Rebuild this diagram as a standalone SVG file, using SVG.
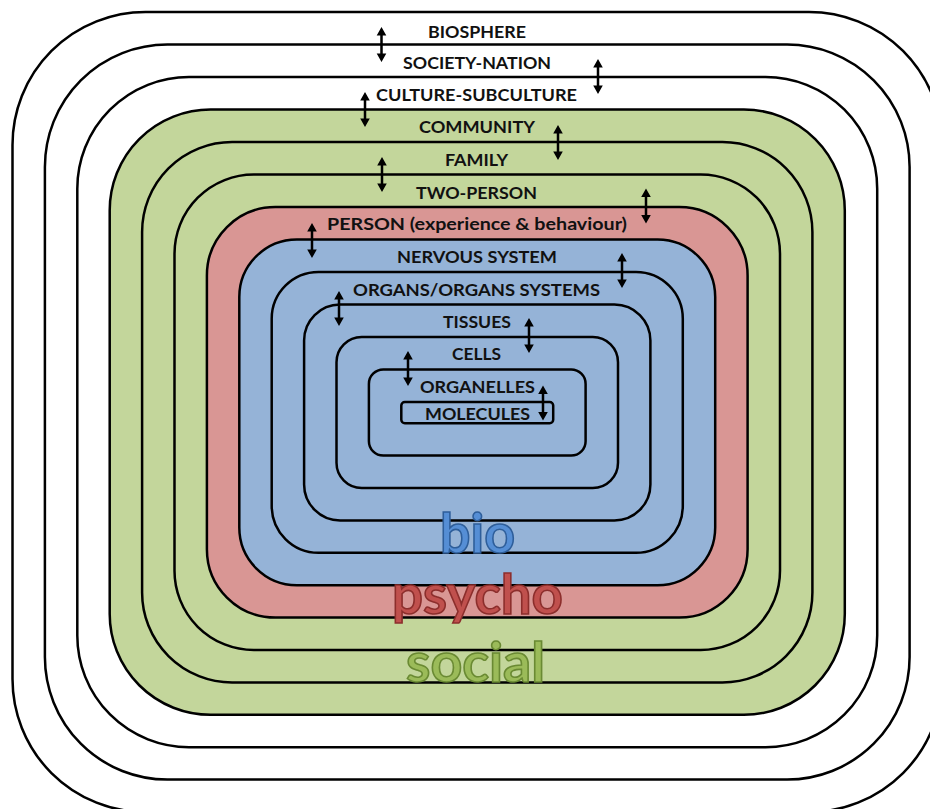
<svg xmlns="http://www.w3.org/2000/svg" xmlns:xlink="http://www.w3.org/1999/xlink" width="930" height="809" viewBox="0 0 930 809">
<style>
.ring{stroke:#000;stroke-width:2.5}
.w{fill:#fff}
.g{fill:#C3D69B}
.r{fill:#D99694}
.b{fill:#95B3D7}
.lbl{font-family:Lato,"Open Sans","Liberation Sans",sans-serif;font-weight:bold;font-size:17.5px;fill:#111;text-anchor:middle}
.big{font-family:Lato,"Open Sans","Liberation Sans",sans-serif;font-weight:bold;font-size:55px;text-anchor:middle;stroke-width:1.6}
</style>
<defs>
<path id="dbl" d="M0,-17.5 L4.8,-9 L1.25,-9 L1.25,9 L4.8,9 L0,17.5 L-4.8,9 L-1.25,9 L-1.25,-9 L-4.8,-9 Z" fill="#000"/>
</defs>
<rect width="930" height="809" fill="#fff"/>
<g id="biosphere"><rect class="ring w" x="12.5" y="12" width="929.5" height="800" rx="133"/><text class="lbl" x="477" y="38" textLength="98" lengthAdjust="spacingAndGlyphs">BIOSPHERE</text></g>
<g id="society-nation"><rect class="ring w" x="44.9" y="44.5" width="864.7" height="735.1" rx="122.5"/><text class="lbl" x="477" y="69" textLength="148" lengthAdjust="spacingAndGlyphs">SOCIETY-NATION</text></g>
<g id="culture-subculture"><rect class="ring w" x="77.3" y="77" width="799.9" height="670.2" rx="111.7"/><text class="lbl" x="476.5" y="101" textLength="201" lengthAdjust="spacingAndGlyphs">CULTURE-SUBCULTURE</text></g>
<g id="community"><rect class="ring g" x="109.7" y="109.5" width="735.1" height="605.3" rx="100.9"/><text class="lbl" x="477" y="133" textLength="116" lengthAdjust="spacingAndGlyphs">COMMUNITY</text></g>
<g id="family"><rect class="ring g" x="142.1" y="142" width="670.3" height="540.4" rx="90"/><text class="lbl" x="476.5" y="166" textLength="63" lengthAdjust="spacingAndGlyphs">FAMILY</text></g>
<g id="two-person"><rect class="ring g" x="174.5" y="174.5" width="605.5" height="475.5" rx="79.3"/><text class="lbl" x="476.5" y="199" textLength="121" lengthAdjust="spacingAndGlyphs">TWO-PERSON</text></g>
<g id="person"><rect class="ring r" x="206.9" y="207" width="540.7" height="410.6" rx="68.4"/><text class="lbl" x="477" y="230" textLength="300" lengthAdjust="spacingAndGlyphs">PERSON (experience &amp; behaviour)</text></g>
<g id="nervous-system"><rect class="ring b" x="239.3" y="239.5" width="475.9" height="345.7" rx="57.6"/><text class="lbl" x="477" y="263" textLength="160" lengthAdjust="spacingAndGlyphs">NERVOUS SYSTEM</text></g>
<g id="organs"><rect class="ring b" x="271.7" y="272" width="411.1" height="280.8" rx="46.8"/><text class="lbl" x="476.5" y="296" textLength="247" lengthAdjust="spacingAndGlyphs">ORGANS/ORGANS SYSTEMS</text></g>
<g id="tissues"><rect class="ring b" x="304.1" y="304.5" width="346.3" height="215.9" rx="36"/><text class="lbl" x="477" y="328" textLength="68" lengthAdjust="spacingAndGlyphs">TISSUES</text></g>
<g id="cells"><rect class="ring b" x="336.5" y="337" width="281.5" height="151" rx="25.2"/><text class="lbl" x="476.5" y="360" textLength="49" lengthAdjust="spacingAndGlyphs">CELLS</text></g>
<g id="organelles"><rect class="ring b" x="368.9" y="369.5" width="216.7" height="86.1" rx="14.4"/><text class="lbl" x="477.5" y="393" textLength="115" lengthAdjust="spacingAndGlyphs">ORGANELLES</text></g>
<g id="molecules"><rect class="ring b" x="401.3" y="402" width="151.9" height="21.2" rx="3.5"/><text class="lbl" x="477.5" y="420" textLength="105" lengthAdjust="spacingAndGlyphs">MOLECULES</text></g>
<g id="connectors">
<use xlink:href="#dbl" x="381.5" y="44.5"/>
<use xlink:href="#dbl" x="598" y="76.5"/>
<use xlink:href="#dbl" x="365" y="109.5"/>
<use xlink:href="#dbl" x="558" y="142.5"/>
<use xlink:href="#dbl" x="382" y="174.5"/>
<use xlink:href="#dbl" x="646" y="206"/>
<use xlink:href="#dbl" x="312" y="240.5"/>
<use xlink:href="#dbl" x="622" y="270.5"/>
<use xlink:href="#dbl" x="339" y="308.5"/>
<use xlink:href="#dbl" x="529" y="335.5"/>
<use xlink:href="#dbl" x="408" y="368.5"/>
<use xlink:href="#dbl" x="543" y="403"/>
</g>
<g id="labels">
<text class="big" x="477.5" y="553" textLength="75" lengthAdjust="spacingAndGlyphs" fill="#558ED5" stroke="#2E5E9A">bio</text>
<text class="big" x="477.5" y="614" textLength="171" lengthAdjust="spacingAndGlyphs" fill="#C0504D" stroke="#8C2E2C">psycho</text>
<text class="big" x="475.5" y="682" textLength="139" lengthAdjust="spacingAndGlyphs" fill="#9BBB59" stroke="#6A8A33">social</text>
</g>
</svg>
